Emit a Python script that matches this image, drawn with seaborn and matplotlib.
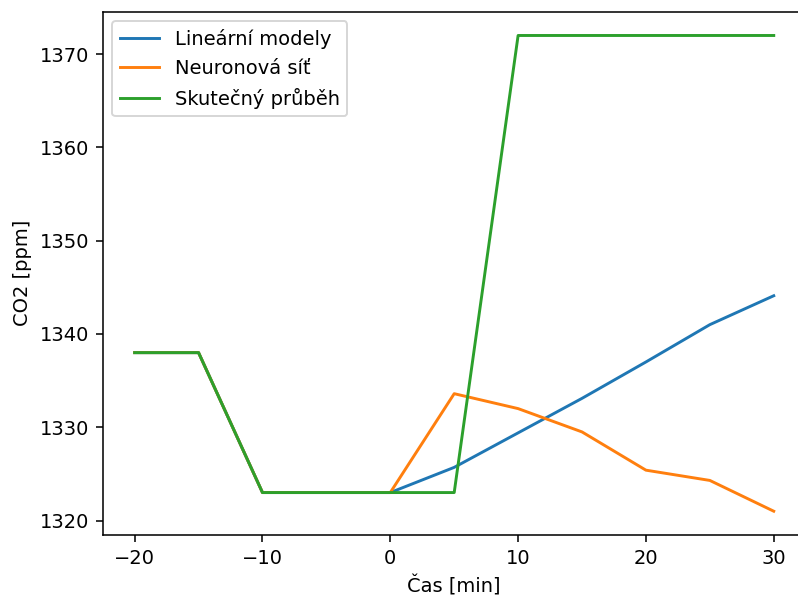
import matplotlib
matplotlib.use("Agg")
import matplotlib.pyplot as plt
import seaborn as sns
import pandas as pd

time_all = [-20, -15, -10, -5, 0, 5, 10, 15, 20, 25, 30]
history = [1338, 1338, 1323, 1323, 1323]
linear_future = [1325.7, 1329.4, 1333.1, 1337.0, 1341.0, 1344.1]
neural_future = [1333.6, 1332.0, 1329.5, 1325.4, 1324.3, 1321.0]
actual_future = [1323, 1372, 1372, 1372, 1372, 1372]

labels = ["Lineární modely", "Neuronová síť", "Skutečný průběh"]
colors = ["#1f77b4", "#ff7f0e", "#2ca02c"]
series = [history + linear_future, history + neural_future, history + actual_future]

rows = []
for lab, vals in zip(labels, series):
    for t, v in zip(time_all, vals):
        rows.append({"t": t, "v": v, "s": lab})
df = pd.DataFrame(rows)

DPI = 140
plt.rcParams['font.family'] = ['DejaVu Sans']
fig = plt.figure(figsize=(798/DPI, 599/DPI), dpi=DPI)
ax = fig.add_axes([102.7/798, 1 - 535/599, (805.7-102.7)/798, (535-11.7)/599])
for lab, col in zip(labels, colors):
    sns.lineplot(data=df[df.s == lab], x="t", y="v", ax=ax, color=col, label=lab, linewidth=1.5)
ax.set_xlabel("Čas [min]")
ax.set_ylabel("CO2 [ppm]")
ax.legend(loc="upper left")
fig.savefig("out.png", dpi=DPI)
